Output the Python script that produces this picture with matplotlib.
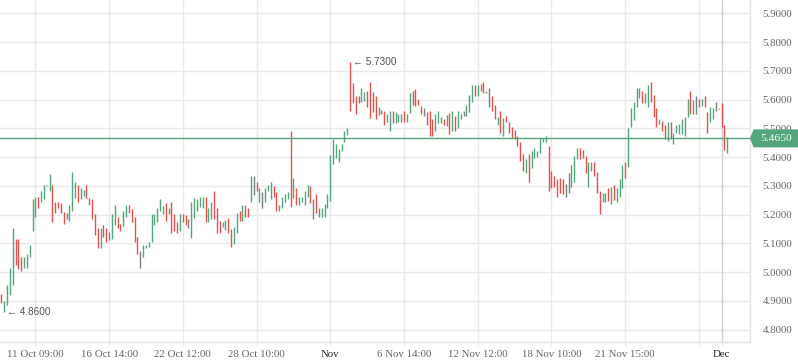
import matplotlib
matplotlib.use("Agg")
import numpy as np
import matplotlib.pyplot as plt
from matplotlib.patches import Polygon

# -----------------------
# Data
# -----------------------
highs = [
    4.924, 4.898, 4.954, 5.014, 5.153, 5.115, 5.115, 5.052, 5.051, 5.063,
    5.094, 5.253, 5.260, 5.262, 5.282, 5.304, 5.303, 5.341, 5.304, 5.244,
    5.244, 5.239, 5.210, 5.204, 5.233, 5.348, 5.312, 5.303, 5.292, 5.285,
    5.303, 5.258, 5.253, 5.202, 5.153, 5.154, 5.164, 5.153, 5.140, 5.202,
    5.233, 5.190, 5.167, 5.212, 5.233, 5.233, 5.219, 5.193, 5.122, 5.074,
    5.094, 5.094, 5.105, 5.202, 5.202, 5.222, 5.254, 5.231, 5.239, 5.222,
    5.244, 5.202, 5.175, 5.202, 5.202, 5.198, 5.183, 5.244, 5.256, 5.254,
    5.260, 5.260, 5.261, 5.222, 5.245, 5.283, 5.222, 5.178, 5.175, 5.181,
    5.187, 5.151, 5.158, 5.204, 5.214, 5.233, 5.233, 5.224, 5.334, 5.334,
    5.313, 5.294, 5.280, 5.292, 5.303, 5.313, 5.298, 5.280, 5.233, 5.260,
    5.272, 5.280, 5.491, 5.327, 5.291, 5.260, 5.260, 5.283, 5.302, 5.301,
    5.254, 5.272, 5.224, 5.224, 5.237, 5.272, 5.407, 5.463, 5.445, 5.428,
    5.445, 5.492, 5.501, 5.730, 5.659, 5.613, 5.613, 5.641, 5.625, 5.631,
    5.662, 5.625, 5.612, 5.575, 5.564, 5.559, 5.550, 5.561, 5.560, 5.558,
    5.550, 5.550, 5.560, 5.550, 5.624, 5.630, 5.636, 5.601, 5.579, 5.569,
    5.558, 5.561, 5.532, 5.550, 5.559, 5.541, 5.532, 5.545, 5.552, 5.560,
    5.542, 5.560, 5.550, 5.560, 5.582, 5.616, 5.651, 5.651, 5.651, 5.654,
    5.661, 5.630, 5.640, 5.612, 5.582, 5.541, 5.559, 5.537, 5.543, 5.522,
    5.503, 5.494, 5.473, 5.453, 5.410, 5.392, 5.410, 5.421, 5.432, 5.420,
    5.465, 5.465, 5.473, 5.438, 5.352, 5.335, 5.324, 5.328, 5.324, 5.306,
    5.343, 5.372, 5.405, 5.433, 5.433, 5.425, 5.404, 5.383, 5.383, 5.384,
    5.349, 5.283, 5.274, 5.274, 5.291, 5.295, 5.303, 5.291, 5.324, 5.372,
    5.382, 5.500, 5.570, 5.593, 5.639, 5.639, 5.630, 5.622, 5.651, 5.660,
    5.616, 5.569, 5.531, 5.527, 5.512, 5.523, 5.521, 5.483, 5.512, 5.515,
    5.532, 5.541, 5.602, 5.631, 5.598, 5.614, 5.601, 5.602, 5.614, 5.556,
    5.573, 5.569, 5.593, 5.572, 5.587, 5.512, 5.469,
]
lows = [
    4.891, 4.860, 4.887, 4.920, 4.955, 5.023, 5.012, 5.005, 5.014, 5.014,
    5.054, 5.144, 5.190, 5.224, 5.243, 5.254, 5.300, 5.283, 5.175, 5.204,
    5.224, 5.204, 5.167, 5.186, 5.176, 5.214, 5.256, 5.245, 5.255, 5.265,
    5.256, 5.234, 5.186, 5.130, 5.085, 5.085, 5.121, 5.106, 5.110, 5.115,
    5.164, 5.153, 5.144, 5.160, 5.193, 5.204, 5.175, 5.106, 5.063, 5.015,
    5.054, 5.084, 5.086, 5.105, 5.163, 5.175, 5.214, 5.202, 5.179, 5.202,
    5.135, 5.142, 5.135, 5.144, 5.174, 5.164, 5.153, 5.120, 5.189, 5.214,
    5.225, 5.222, 5.175, 5.175, 5.183, 5.186, 5.135, 5.135, 5.157, 5.146,
    5.135, 5.086, 5.098, 5.135, 5.179, 5.178, 5.190, 5.193, 5.245, 5.268,
    5.281, 5.245, 5.224, 5.245, 5.282, 5.253, 5.262, 5.214, 5.214, 5.224,
    5.245, 5.253, 5.225, 5.256, 5.233, 5.233, 5.245, 5.233, 5.260, 5.240,
    5.186, 5.204, 5.193, 5.193, 5.193, 5.222, 5.248, 5.376, 5.396, 5.384,
    5.422, 5.454, 5.476, 5.560, 5.587, 5.550, 5.587, 5.590, 5.596, 5.573,
    5.535, 5.555, 5.533, 5.548, 5.550, 5.513, 5.523, 5.491, 5.517, 5.520,
    5.523, 5.523, 5.523, 5.523, 5.552, 5.580, 5.577, 5.580, 5.549, 5.544,
    5.512, 5.473, 5.473, 5.491, 5.520, 5.520, 5.512, 5.508, 5.480, 5.491,
    5.492, 5.500, 5.532, 5.543, 5.544, 5.558, 5.593, 5.612, 5.612, 5.629,
    5.624, 5.624, 5.573, 5.561, 5.532, 5.512, 5.483, 5.473, 5.521, 5.483,
    5.465, 5.462, 5.440, 5.387, 5.353, 5.343, 5.314, 5.363, 5.396, 5.400,
    5.413, 5.454, 5.454, 5.283, 5.291, 5.295, 5.262, 5.274, 5.272, 5.262,
    5.274, 5.295, 5.314, 5.393, 5.393, 5.396, 5.343, 5.295, 5.353, 5.334,
    5.274, 5.201, 5.245, 5.245, 5.248, 5.237, 5.251, 5.245, 5.262, 5.294,
    5.328, 5.365, 5.503, 5.530, 5.573, 5.604, 5.588, 5.587, 5.573, 5.593,
    5.538, 5.503, 5.514, 5.492, 5.463, 5.457, 5.463, 5.445, 5.483, 5.480,
    5.480, 5.473, 5.541, 5.550, 5.550, 5.549, 5.573, 5.579, 5.573, 5.483,
    5.523, 5.532, 5.561, 5.567, 5.503, 5.425, 5.413,
]
# bar direction: u = up (green), d = down (red), n = unchanged (gray)
moves = (
    "duuuudddu u" + "uuuduunudd" + "dddnuuuduu" + "ddddduddnu" + "udduuddddn"
    + "uuuuuuuudn" + "ddduddnuuu" + "uuduuddduu" + "dduududdun" + "dunuuudduu"
    + "uududuuuud" + "ndnuuuuuuu" + "uuudddduud" + "dddudduudu" + "uuduuddddn"
    + "ddduuududu" + "duunuuudud" + "dnnddududd" + "ddddduduuu" + "uuuddddddn"
    + "nuuuddduud" + "dduududuuu" + "duuuuuduud" + "ddudduduuu" + "uuudundudd"
    + "uunnddu"
).replace(" ", "")

tick_pos = [12, 38, 64, 90, 116, 142, 168, 194, 220, 246, 254]
tick_labels = ["11 Oct 09:00", "16 Oct 14:00", "22 Oct 12:00", "28 Oct 10:00",
               "Nov", "6 Nov 14:00", "12 Nov 12:00", "18 Nov 10:00",
               "21 Nov 15:00", "", "Dec"]
y_ticks = [4.8, 4.9, 5.0, 5.1, 5.2, 5.3, 5.4, 5.5, 5.6, 5.7, 5.8, 5.9]
last_price = 5.465

# -----------------------
# Style
# -----------------------
GREEN = "#53a57c"
RED = "#e5514b"
GRAY = "#7f7f7f"
GRID = "#e9e9ee"
TEXT = "#666666"

col_map = {"u": GREEN, "d": RED, "n": GRAY}
colors = [col_map[m] for m in moves]

fig = plt.figure(figsize=(7.98, 3.63), dpi=100)
ax = fig.add_axes([0, 21 / 363, 750 / 798, 342 / 363])

x = np.arange(len(highs))
ax.vlines(x, lows, highs, colors=colors, linewidth=1.0, zorder=3)

ax.set_xlim(-0.47, 264.0)
ax.set_ylim(4.7567, 5.9463)

for ytk in y_ticks:
    ax.axhline(ytk, color=GRID, lw=1.0, zorder=0)
for xt in tick_pos:
    ax.axvline(xt, color="#cfd0d6" if xt == 254 else GRID, lw=1.0, zorder=0)

ax.axhline(last_price, color=GREEN, lw=1.0, zorder=4)

for s in ["top", "left"]:
    ax.spines[s].set_visible(False)
for s in ["bottom", "right"]:
    ax.spines[s].set_color("#e3e3e8")
    ax.spines[s].set_linewidth(1.0)

ax.set_xticks(tick_pos)
ax.set_xticklabels(tick_labels, family="Liberation Serif", fontsize=7.8, color=TEXT)
for lbl in ax.get_xticklabels():
    if lbl.get_text() in ("Nov", "Dec"):
        lbl.set_color("#222222")
ax.tick_params(axis="x", length=3, color=GRID, pad=3)

ax.yaxis.tick_right()
ax.set_yticks(y_ticks)
ax.set_yticklabels([f"{v:.4f}" for v in y_ticks], family="Liberation Serif",
                   fontsize=7.8, color=TEXT)
ax.tick_params(axis="y", length=0, pad=9)

# min / max markers
i_lo = int(np.argmin(lows))
i_hi = int(np.argmax(highs))
for i, v in [(i_lo, lows[i_lo]), (i_hi, highs[i_hi])]:
    ax.annotate(f"\u2190 {v:.4f}", xy=(i, v), xytext=(2, 0), textcoords="offset points",
                va="center", ha="left", fontsize=7.2, color="#555555",
                family=["Liberation Sans", "DejaVu Sans"], zorder=5)

# last price tag on the axis
y0 = ax.transData.transform((0, last_price))[1] / fig.dpi / 3.63
h = 9 / 363
tag = Polygon([(750 / 798, y0), (753.5 / 798, y0 + h), (1, y0 + h),
               (1, y0 - h), (753.5 / 798, y0 - h)], closed=True,
              transform=fig.transFigure, facecolor=GREEN, edgecolor="none", zorder=5)
fig.patches.append(tag)
fig.text(776 / 798, y0, f"{last_price:.4f}", ha="center", va="center", color="white",
         fontsize=8.2, family="Liberation Serif", zorder=6)

fig.savefig("out.png", dpi=100)
